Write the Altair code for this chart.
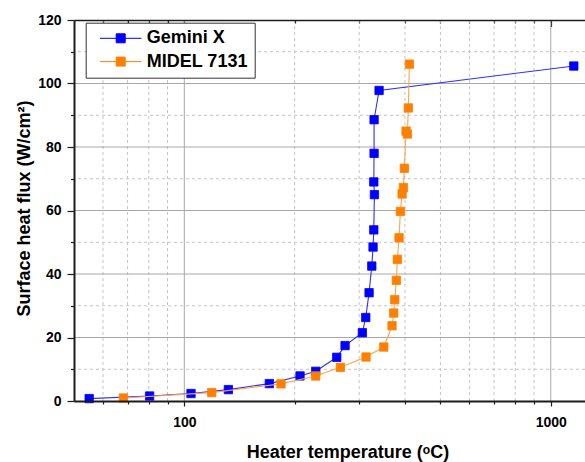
import altair as alt
import pandas as pd

# ---- data ----
series_names = ["Gemini X", "MIDEL 7131"]
gemini_T = [55.0, 80.4, 104.3, 131.9, 170.6, 206.9, 228.4, 260.6, 274.6, 306.1,
            312.7, 319.3, 324.8, 327.4, 328.9, 330.2, 328.9, 329.5, 329.5, 340.0, 1155.7]
gemini_q = [0.76, 1.57, 2.36, 3.59, 5.48, 7.9, 9.35, 13.76, 17.45, 21.5,
            26.3, 34.1, 42.5, 48.5, 53.9, 65.0, 69.0, 78.0, 88.6, 97.8, 105.5]
midel_T = [68.2, 118.8, 183.6, 228.4, 266.6, 313.3, 350.2, 368.9, 372.8, 375.2,
           379.0, 381.4, 385.5, 388.7, 392.9, 396.1, 398.5, 402.8, 406.1, 408.7, 411.3]
midel_q = [0.94, 2.65, 5.4, 7.87, 10.6, 13.86, 17.0, 23.7, 27.7, 31.9,
           38.0, 44.6, 51.4, 59.7, 65.2, 67.2, 73.3, 85.0, 84.1, 92.3, 106.1]

x_major = [100, 1000]
x_minor = [60, 70, 80, 90, 200, 300, 400, 500, 600, 700, 800, 900]
y_labels = [0, 20, 40, 60, 80, 100, 120]
y_major_grid = [20, 40, 60, 80, 100]
y_minor = [10, 30, 50, 70, 90, 110]
x_domain = [50, 1240]
y_domain = [0, 120]

marker_colors = ["#0000ff", "#ff8000"]
line_colors = ["#2f2fff", "#ffa447"]

rows = []
for name, T, q in [(series_names[0], gemini_T, gemini_q), (series_names[1], midel_T, midel_q)]:
    for i, (t, v) in enumerate(zip(T, q)):
        rows.append({"series": name, "T": t, "q": v, "idx": i})
df = pd.DataFrame(rows)

FONT = "Liberation Sans"
DARK = "#1c1c1c"
xs = alt.Scale(type="log", domain=x_domain, nice=False)
ys = alt.Scale(domain=y_domain, nice=False)


def ax(**kw):
    base = dict(title=None, labels=False, grid=False, domain=False, ticks=True,
                tickColor=DARK, tickWidth=1.2, labelOverlap=False)
    base.update(kw)
    return alt.Axis(**base)


xmin_df = pd.DataFrame({"v": x_minor})
xmaj_df = pd.DataFrame({"v": x_major})
ymin_df = pd.DataFrame({"v": y_minor})
ymaj_df = pd.DataFrame({"v": y_major_grid})

xminor_grid = alt.Chart(xmin_df).mark_rule(color="#c4c4c4", strokeDash=[3, 3], strokeWidth=1).encode(
    x=alt.X("v:Q", scale=xs, axis=ax(orient="bottom", values=x_minor, tickSize=3)))
xminor_top = alt.Chart(xmin_df).mark_rule(opacity=0).encode(
    x=alt.X("v:Q", scale=xs, axis=ax(orient="top", values=x_minor, tickSize=3, offset=-3)))
xmajor_grid = alt.Chart(xmaj_df).mark_rule(color="#a8a8a8", strokeWidth=1).encode(
    x=alt.X("v:Q", scale=xs, axis=ax(
        orient="bottom", values=x_major, tickSize=5, labels=True, labelFont=FONT, format="d",
        labelFontSize=14, labelFontWeight="bold", labelColor="black", labelBaseline="alphabetic",
        labelPadding=20.5, labelFlush=False,
        domain=True, domainColor=DARK, domainWidth=2, zindex=1,
        title="Heater temperature (\u1d52C)", titleFont=FONT, titleFontSize=18,
        titleFontWeight="bold", titleColor="black", titleX=273.5, titleY=56,
        titleBaseline="alphabetic")))
xmajor_top = alt.Chart(xmaj_df).mark_rule(opacity=0).encode(
    x=alt.X("v:Q", scale=xs, axis=ax(orient="top", values=x_major, tickSize=6.5, offset=-6.5)))
xtop_domain = alt.Chart(xmaj_df).mark_rule(opacity=0).encode(
    x=alt.X("v:Q", scale=xs, axis=ax(orient="top", ticks=False, domain=True, domainColor=DARK,
                                      domainWidth=1.6, zindex=1)))

yminor_grid = alt.Chart(ymin_df).mark_rule(color="#c4c4c4", strokeDash=[3, 3], strokeWidth=1).encode(
    y=alt.Y("v:Q", scale=ys, axis=ax(orient="left", values=y_minor, tickSize=3.5)))
ymajor_grid = alt.Chart(ymaj_df).mark_rule(color="#a8a8a8", strokeWidth=1).encode(
    y=alt.Y("v:Q", scale=ys, axis=ax(
        orient="left", values=y_labels, tickSize=7, labels=True, labelFont=FONT,
        labelFontSize=14, labelFontWeight="bold", labelColor="black", labelPadding=6,
        labelFlush=False, domain=True, domainColor=DARK, domainWidth=2, zindex=1,
        title="Surface heat flux (W/cm\u00b2)", titleFont=FONT, titleFontSize=18,
        titleFontWeight="bold", titleColor="black", titleX=-45, titleY=188,
        titleBaseline="alphabetic")))

# legend symbol: line segment with a square in the middle
legend_symbol = "M-4.6,0H4.6M-1,-1H1V1H-1Z"
legend = alt.Legend(
    title=None, orient="none", legendX=11.7, legendY=2.7, direction="vertical",
    fillColor="white", strokeColor="#333333", padding=6.6,
    labelFont=FONT, labelFontSize=18, labelFontWeight="bold", labelColor="black",
    symbolType=legend_symbol, symbolSize=81, symbolOffset=19.4,
    labelOffset=17, rowPadding=5.3, symbolStrokeWidth=1, symbolOpacity=1)

fill_enc = alt.Fill("series:N", scale=alt.Scale(domain=series_names, range=marker_colors), legend=legend)
stroke_enc = alt.Stroke("series:N", scale=alt.Scale(domain=series_names, range=marker_colors), legend=legend)

data_layers = []
for name, lc in zip(series_names, line_colors):
    base = alt.Chart(df).transform_filter(alt.datum.series == name)
    line = base.mark_line(strokeWidth=1.1, color=lc).encode(
        x=alt.X("T:Q", scale=xs, axis=None),
        y=alt.Y("q:Q", scale=ys, axis=None),
        order="idx:Q")
    pts = base.mark_point(shape="square", filled=True, size=70, opacity=1, strokeWidth=0.8).encode(
        x=alt.X("T:Q", scale=xs, axis=None),
        y=alt.Y("q:Q", scale=ys, axis=None),
        fill=fill_enc, stroke=stroke_enc)
    data_layers += [line, pts]

chart = alt.layer(
    xminor_grid, yminor_grid, xmajor_grid, ymajor_grid,
    xminor_top, xmajor_top, xtop_domain, *data_layers
).resolve_axis(x="independent", y="independent").properties(
    width=511, height=381,
    padding={"left": 74, "top": 20, "right": 0, "bottom": 61},
    autosize=alt.AutoSizeParams(type="none"),
).configure_view(stroke=None).configure(background="white")

chart.save("out.html", embed_options={"renderer": "svg", "actions": False})
